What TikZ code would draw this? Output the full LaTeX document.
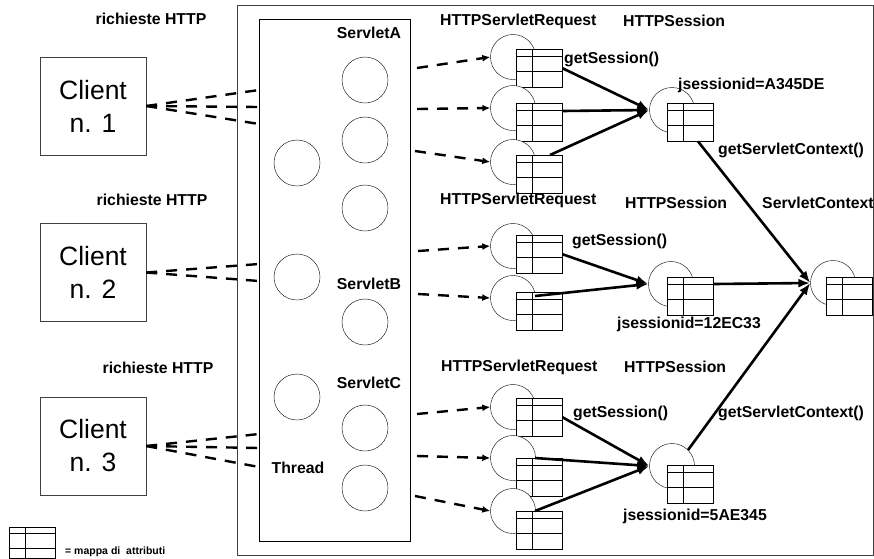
\documentclass[tikz,border=0pt]{standalone}
\usepackage{fontspec}
\setmainfont{Liberation Sans}
\usetikzlibrary{positioning,calc,arrows.meta}

\tikzset{
  lbl/.style={font=\fontsize{15.8}{18}\selectfont\bfseries, inner sep=0pt},
  clientbox/.style={draw=black!75, minimum width=106pt, minimum height=98pt, align=center, inner sep=0pt, font=\fontsize{26.5}{33}\selectfont},
  thr/.style={draw, circle, minimum size=46pt, inner sep=0pt},
  objcirc/.style={draw, circle, fill=white, minimum size=45pt, inner sep=0pt},
  objtab/.style={draw, fill=white, minimum width=46pt, minimum height=38pt, inner sep=0pt},
  conn/.style={line width=2.4pt, dash pattern=on 11pt off 9pt},
  reqarr/.style={conn, -{Latex[length=8pt,width=7pt]}},
  callarr/.style={line width=2.6pt, -{Latex[length=12pt,width=9pt]}},
}

% circle plus attribute map: name, circle centre, table corner
\newcommand{\objicon}[3]{%
  \node[objcirc] (#1c) at (#2) {};
  \node[objtab, anchor=north west] (#1t) at (#3) {};
  \draw ($(#1t.north west)+(16,0)$) -- ($(#1t.south west)+(16,0)$);
  \draw ($(#1t.north west)+(0,7)$) -- ($(#1t.north east)+(0,7)$);
  \draw ($(#1t.north west)+(0,22)$) -- ($(#1t.north east)+(0,22)$);
}

\begin{document}
\begin{tikzpicture}[x=1pt, y=-1pt]
    \useasboundingbox (0,0) rectangle (874,558);

    % containers
    \draw[black!75] (237,5) rectangle (873,555);
    \draw (259,19.5) rectangle (410,541);

    % threads
    \foreach \y [count=\i] in {80,140,208,322,428,488}
        \node[thr] (tr\i) at (365,\y) {};
    \foreach \y [count=\i] in {163,277,397}
        \node[thr] (tl\i) at (297,\y) {};
    \node[lbl] (sva) at (369,33) {ServletA};
    \node[lbl] (svb) at (369,284) {ServletB};
    \node[lbl] (svc) at (369,383) {ServletC};
    \node[lbl] (thd) at (298,468) {Thread};

    % clients
    \node[clientbox] (cl1) at (93,106) {Client\\n. 1};
    \node[clientbox] (cl2) at (93,272.5) {Client\\n. 2};
    \node[clientbox] (cl3) at (93,446) {Client\\n. 3};
    \node[lbl] (rq1) at (151,19) {richieste HTTP};
    \node[lbl] (rq2) at (152,200) {richieste HTTP};
    \node[lbl] (rq3) at (158,368) {richieste HTTP};

    \coordinate (i1a) at (259,90);
    \coordinate (i1b) at (259,107);
    \coordinate (i1c) at (259,124);
    \coordinate (i2a) at (259,264);
    \coordinate (i2b) at (259,281);
    \coordinate (i3a) at (259,434);
    \coordinate (i3b) at (259,448);
    \coordinate (i3c) at (259,467);
    \foreach \t in {i1a,i1b,i1c}
        \draw[conn] (cl1.east) -- (\t);
    \foreach \t in {i2a,i2b}
        \draw[conn] (cl2.east) -- (\t);
    \foreach \t in {i3a,i3b,i3c}
        \draw[conn] (cl3.east) -- (\t);

    % request, session and context objects
    \objicon{req1}{513,57}{516,49}
    \objicon{req2}{513,108}{516,103}
    \objicon{req3}{513,162}{516,155}
    \objicon{ses1}{672,110}{667,103}
    \objicon{req4}{513,246}{516,235}
    \objicon{req5}{513,298}{516,292}
    \objicon{ses2}{671,284}{667,277}
    \objicon{ctx}{833,283}{826,277}
    \objicon{req6}{513,407}{516,398}
    \objicon{req7}{513,458}{516,458}
    \objicon{req8}{513,511}{516,511}
    \objicon{ses3}{672,466}{667,465}

    % dispatch to the servlet requests
    \coordinate (o1a) at (417,68);
    \coordinate (o1b) at (417,109);
    \coordinate (o1c) at (415,151);
    \coordinate (o2a) at (418,251);
    \coordinate (o2b) at (418,294);
    \coordinate (o3a) at (417,414);
    \coordinate (o3b) at (417,456);
    \coordinate (o3c) at (415,496);
    \draw[reqarr] (o1a) -- (req1c.west);
    \draw[reqarr] (o1b) -- (req2c.west);
    \draw[reqarr] (o1c) -- (req3c.west);
    \draw[reqarr] (o2a) -- (req4c.west);
    \draw[reqarr] (o2b) -- (req5c.west);
    \draw[reqarr] (o3a) -- (req6c.west);
    \draw[reqarr] (o3b) -- (req7c.west);
    \draw[reqarr] (o3c) -- (req8c.west);

    % getSession()
    \draw[callarr] (req1t.east) -- (ses1c.west);
    \draw[callarr] ($(req2t.north east)+(0,8)$) -- (ses1c.west);
    \draw[callarr] ($(req3t.north west)+(34,0)$) -- (ses1c.west);
    \draw[callarr] (req4t.east) -- (ses2c.west);
    \draw[callarr] ($(req5t.north west)+(19,4)$) -- (ses2c.west);
    \draw[callarr] (req6t.east) -- (ses3c.west);
    \draw[callarr] ($(req7t.north west)+(19,0)$) -- (ses3c.west);
    \draw[callarr] ($(req8t.north west)+(19,0)$) -- (ses3c.west);

    % getServletContext()
    \draw[callarr] ($(ses1t.south west)+(31,0)$) -- (ctxc.west);
    \draw[callarr] ($(ses2t.north east)+(0,7)$) -- (ctxc.west);
    \draw[callarr] (ses3c.45) -- (ctxc.west);

    % labels
    \node[lbl, anchor=west] (hr1) at (440,21) {HTTPServletRequest};
    \node[lbl, anchor=west] (hs1) at (623,21) {HTTPSession};
    \node[lbl, anchor=west] (gs1) at (564,59) {getSession()};
    \node[lbl, anchor=west] (js1) at (678,85) {jsessionid=A345DE};
    \node[lbl, anchor=west] (gc1) at (718,150) {getServletContext()};
    \node[lbl, anchor=west] (hr2) at (440,200) {HTTPServletRequest};
    \node[lbl, anchor=west] (hs2) at (625,203) {HTTPSession};
    \node[lbl, anchor=west] (sc) at (762,203) {ServletContext};
    \node[lbl, anchor=west] (gs2) at (572,241) {getSession()};
    \node[lbl, anchor=west] (js2) at (617,324) {jsessionid=12EC33};
    \node[lbl, anchor=west] (hr3) at (441,367) {HTTPServletRequest};
    \node[lbl, anchor=west] (hs3) at (624,367) {HTTPSession};
    \node[lbl, anchor=west] (gs3) at (573,413) {getSession()};
    \node[lbl, anchor=west] (gc3) at (718,413) {getServletContext()};
    \node[lbl, anchor=west] (js3) at (623,516) {jsessionid=5AE345};

    % legend
    \node[objtab, minimum height=31pt, anchor=north west] (leg) at (9,527) {};
    \draw ($(leg.north west)+(16,0)$) -- ($(leg.south west)+(16,0)$);
    \draw ($(leg.north west)+(0,6)$) -- ($(leg.north east)+(0,6)$);
    \draw ($(leg.north west)+(0,21)$) -- ($(leg.north east)+(0,21)$);
    \node[lbl, font=\fontsize{10.5}{12}\selectfont\bfseries, anchor=west] (legtxt) at (65,552) {= mappa di\ \ attributi};
\end{tikzpicture}
\end{document}
